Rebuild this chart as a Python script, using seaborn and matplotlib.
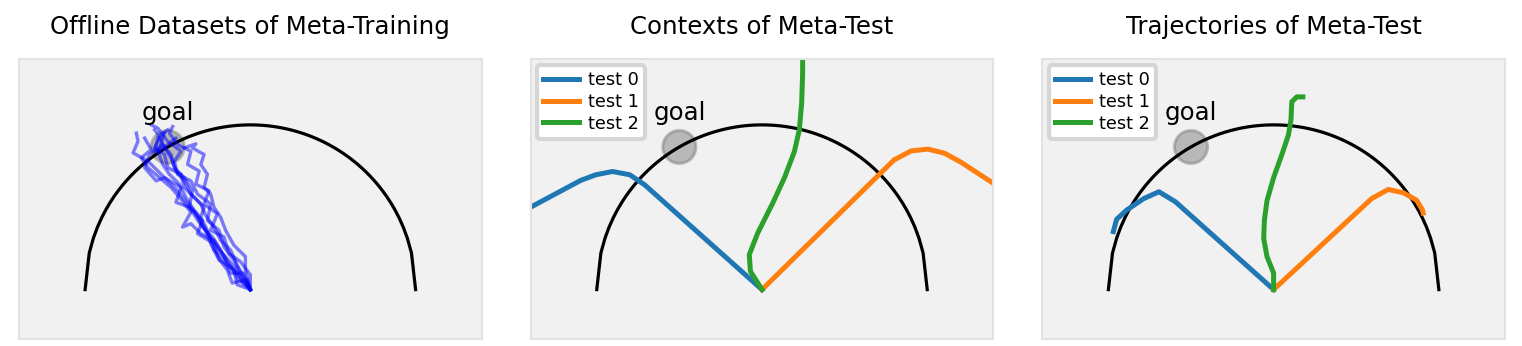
import numpy as np
import pandas as pd
import matplotlib
matplotlib.use("Agg")
import matplotlib.pyplot as plt
import seaborn as sns

titles = ["Offline Datasets of Meta-Training", "Contexts of Meta-Test", "Trajectories of Meta-Test"]
goal = (-0.5, 0.866)
test_names = ["test 0", "test 1", "test 2"]

# offline meta-training trajectories (x, y), all start at the origin
train_x = [
    [0, -0.04, -0.08, -0.12, -0.18, -0.22, -0.27, -0.30, -0.36, -0.40, -0.45, -0.48, -0.52, -0.55, -0.58],
    [0, -0.03, -0.03, -0.10, -0.15, -0.18, -0.22, -0.24, -0.28, -0.26, -0.30, -0.28, -0.35, -0.33, -0.40],
    [0, -0.07, -0.12, -0.17, -0.22, -0.30, -0.36, -0.41, -0.36, -0.42, -0.48, -0.55, -0.62, -0.66, -0.60, -0.64],
    [0, -0.02, -0.11, -0.14, -0.20, -0.24, -0.28, -0.32, -0.38, -0.44, -0.50, -0.56, -0.62, -0.71, -0.68, -0.69],
    [0, -0.06, -0.10, -0.16, -0.19, -0.26, -0.24, -0.32, -0.36, -0.44, -0.46, -0.42, -0.50, -0.56, -0.60],
    [0, -0.05, -0.09, -0.15, -0.20, -0.25, -0.30, -0.34, -0.39, -0.43, -0.49, -0.53, -0.56, -0.50, -0.45],
    [0, -0.04, -0.12, -0.16, -0.22, -0.26, -0.30, -0.28, -0.34, -0.40, -0.42, -0.50, -0.52, -0.58, -0.54, -0.50],
    [0, -0.03, -0.08, -0.14, -0.18, -0.23, -0.29, -0.33, -0.37, -0.35, -0.40, -0.46, -0.48, -0.53, -0.58, -0.56],
    [0, 0.0, -0.06, -0.13, -0.16, -0.24, -0.20, -0.28, -0.25, -0.33, -0.31, -0.38, -0.36, -0.44, -0.49, -0.47],
    [0, -0.08, -0.10, -0.19, -0.22, -0.32, -0.29, -0.37, -0.45, -0.42, -0.52, -0.57, -0.64, -0.61, -0.55, -0.52],
]
train_y = [
    [0, 0.08, 0.15, 0.24, 0.30, 0.38, 0.45, 0.52, 0.58, 0.66, 0.72, 0.80, 0.86, 0.93, 0.97],
    [0, 0.12, 0.20, 0.27, 0.36, 0.44, 0.50, 0.58, 0.62, 0.70, 0.76, 0.82, 0.86, 0.885, 0.86],
    [0, 0.06, 0.14, 0.22, 0.30, 0.34, 0.40, 0.38, 0.47, 0.55, 0.62, 0.68, 0.74, 0.80, 0.85, 0.92],
    [0, 0.06, 0.04, 0.12, 0.20, 0.28, 0.38, 0.46, 0.52, 0.60, 0.66, 0.72, 0.78, 0.83, 0.90, 0.95],
    [0, 0.10, 0.18, 0.26, 0.36, 0.42, 0.52, 0.58, 0.66, 0.70, 0.78, 0.84, 0.90, 0.98, 1.00],
    [0, 0.05, 0.13, 0.20, 0.25, 0.33, 0.40, 0.48, 0.56, 0.64, 0.70, 0.76, 0.84, 0.88, 0.92],
    [0, 0.10, 0.10, 0.18, 0.24, 0.36, 0.44, 0.50, 0.56, 0.62, 0.70, 0.74, 0.82, 0.86, 0.94, 0.97],
    [0, 0.04, 0.10, 0.16, 0.24, 0.32, 0.38, 0.44, 0.50, 0.60, 0.68, 0.74, 0.82, 0.88, 0.84, 0.92],
    [0, 0.09, 0.17, 0.22, 0.32, 0.36, 0.46, 0.52, 0.60, 0.64, 0.72, 0.76, 0.84, 0.88, 0.95, 0.99],
    [0, 0.03, 0.12, 0.18, 0.28, 0.34, 0.42, 0.50, 0.53, 0.62, 0.68, 0.66, 0.74, 0.82, 0.86, 0.95],
]

# meta-test contexts
ctx_x = [
    [0, -0.71, -0.80, -0.905, -1.006, -1.097, -1.41, -1.5],
    [0, 0.80, 0.903, 1.004, 1.105, 1.206, 1.408, 1.5],
    [0, -0.07, -0.077, -0.026, 0.065, 0.135, 0.196, 0.226, 0.240, 0.246, 0.246],
]
ctx_y = [
    [0, 0.636, 0.697, 0.717, 0.697, 0.663, 0.495, 0.45],
    [0, 0.788, 0.842, 0.853, 0.828, 0.772, 0.640, 0.58],
    [0, 0.111, 0.212, 0.343, 0.525, 0.677, 0.838, 0.970, 1.131, 1.313, 1.5],
]

# meta-test trajectories
traj_x = [
    [0, -0.594, -0.694, -0.785, -0.889, -0.95, -0.97],
    [0, 0.594, 0.694, 0.785, 0.865, 0.901, 0.905],
    [0, 0.0, -0.04, -0.06, -0.056, -0.04, 0.0, 0.05, 0.09, 0.105, 0.11, 0.14, 0.177],
]
traj_y = [
    [0, 0.533, 0.594, 0.553, 0.483, 0.427, 0.352],
    [0, 0.553, 0.608, 0.588, 0.543, 0.483, 0.465],
    [0, 0.10, 0.20, 0.31, 0.42, 0.54, 0.68, 0.82, 0.94, 1.03, 1.14, 1.17, 1.17],
]


def to_frame(xs, ys, names):
    rows = []
    for name, x, y in zip(names, xs, ys):
        for i, (a, b) in enumerate(zip(x, y)):
            rows.append({"name": name, "step": i, "x": a, "y": b})
    return pd.DataFrame(rows)


def draw_env(ax, title):
    ax.set_facecolor("#f1f1f1")
    xs = np.linspace(-1, 1, 81)
    ax.plot(xs, np.sqrt(1 - xs ** 2), color="black", lw=2.3, zorder=1)
    ax.add_patch(plt.Circle(goal, 0.1, facecolor="gray", edgecolor="gray",
                            alpha=0.5, lw=2.2, zorder=0.5))
    ax.text(goal[0], 1.0, "goal", ha="center", va="bottom", fontsize=17.6)
    ax.set_xlim(-1.4, 1.4)
    ax.set_ylim(-0.3, 1.4)
    ax.set_xticks([])
    ax.set_yticks([])
    ax.set_xlabel("")
    ax.set_ylabel("")
    for s in ax.spines.values():
        s.set_color("#e2e2e2")
        s.set_linewidth(1.5)
    ax.set_title(title, fontsize=17.6, pad=18)


fig, axes = plt.subplots(1, 3, figsize=(15.22, 3.46), dpi=100)
plt.subplots_adjust(left=0.0125, right=0.9888, bottom=0.0202, top=0.8295, wspace=0.1058)

df_train = to_frame(train_x, train_y, [f"t{i}" for i in range(len(train_x))])
sns.lineplot(data=df_train, x="x", y="y", units="name", estimator=None, sort=False,
             color="blue", alpha=0.5, lw=2.4, ax=axes[0], zorder=2)
draw_env(axes[0], titles[0])

palette = sns.color_palette("tab10")
for ax, xs, ys, title in [(axes[1], ctx_x, ctx_y, titles[1]), (axes[2], traj_x, traj_y, titles[2])]:
    df = to_frame(xs, ys, test_names)
    for k, name in enumerate(test_names):
        sns.lineplot(data=df[df["name"] == name], x="x", y="y", sort=False, estimator=None,
                     color=palette[k], lw=3.6, ax=ax, label=name, zorder=2)
    draw_env(ax, title)
    leg = ax.legend(loc="upper left", fontsize=12.8, handlelength=2.0, handletextpad=0.5,
                    labelspacing=0.2, borderpad=0.35, borderaxespad=0.35,
                    fancybox=True, framealpha=1)
    leg.get_frame().set_edgecolor("#d6d6d6")
    leg.get_frame().set_linewidth(3)
    for h in leg.get_lines():
        h.set_linewidth(3.6)

fig.savefig("out.png", dpi=100)
